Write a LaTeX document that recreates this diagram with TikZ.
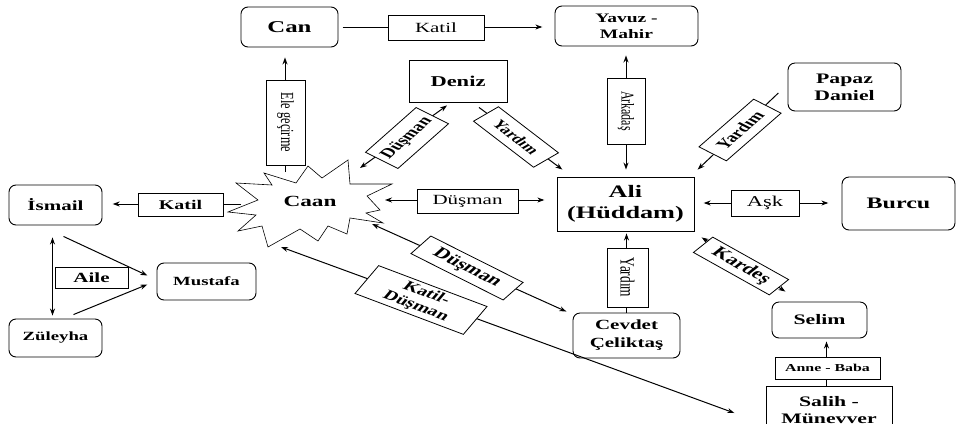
\documentclass[tikz,border=0pt]{standalone}
\usepackage{fontspec}
\setmainfont{Liberation Serif}
\usetikzlibrary{arrows.meta,calc}

\newcommand\fz[2]{\fontsize{#1}{#2}\selectfont}

\tikzset{
  wide/.style={xscale=1.5},
  actor/.style={draw, fill=white, line width=0.9pt, rounded corners=7pt, wide,
                inner sep=0pt, align=center},
  actorsq/.style={actor, sharp corners},
  tag/.style={draw, fill=white, line width=0.8pt, wide, inner sep=0pt, align=center},
  burst/.style={draw, fill=white, line width=0.6pt, line join=miter},
  tip/.tip={Stealth[length=7pt,width=5pt]},
  link/.style={line width=1pt, -tip},
  both/.style={line width=1pt, tip-tip},
}

\begin{document}
\begin{tikzpicture}[x=1pt,y=-1pt]
\useasboundingbox (0,0) rectangle (957,423);

% Caan: a star-burst outline with its name
\begin{scope}[shift={(307,204)}]
  \draw[burst] (-79,8) -- (-49,-4) -- (-71,-21) -- (-35,-19) -- (-43,-31) -- (-11,-21)
    -- (1,-38) -- (15,-26) -- (41,-44) -- (43,-20) -- (85,-20) -- (60,-8) -- (73,6)
    -- (59,9) -- (76,19) -- (43,14) -- (40,30) -- (21,22) -- (11,37) -- (-7,25)
    -- (-39,43) -- (-45,22) -- (-69,27) -- (-51,11) -- cycle;
  \node[wide, inner sep=0pt, font=\fz{15.5}{18}\bfseries] (caan) at (3,-3) {Caan};
\end{scope}

% characters
\node[actor, minimum width=64.7pt, minimum height=40pt, font=\fz{16.5}{18}\bfseries] (can) at (289.5,27) {Can};
\node[actor, minimum width=95.3pt, minimum height=40pt, font=\fz{13}{16}\bfseries] (yavuz) at (626.5,26) {Yavuz -\\Mahir};
\node[actorsq, minimum width=65.3pt, minimum height=42pt, font=\fz{15}{18}\bfseries] (deniz) at (458,81) {Deniz};
\node[actor, minimum width=75.3pt, minimum height=48pt, font=\fz{14.5}{17}\bfseries] (papaz) at (844.5,87) {Papaz\\Daniel};
\node[actorsq, minimum width=91.3pt, minimum height=54pt, font=\fz{17.5}{21}\bfseries] (ali) at (625.5,204) {Ali\\(Hüddam)};
\node[actor, minimum width=75.3pt, minimum height=53pt, font=\fz{16}{19}\bfseries] (burcu) at (898.5,203.5) {Burcu};
\node[actor, minimum width=62pt, minimum height=40pt, font=\fz{14}{17}\bfseries] (ismail) at (55.5,205) {İsmail};
\node[actor, minimum width=66pt, minimum height=37pt, font=\fz{12.5}{15}\bfseries] (mustafa) at (206.5,281.5) {Mustafa};
\node[actor, minimum width=62pt, minimum height=38pt, font=\fz{12.5}{15}\bfseries] (zuleyha) at (55.5,338) {Züleyha};
\node[actor, minimum width=71.3pt, minimum height=45pt, font=\fz{14}{18}\bfseries] (cevdet) at (626.5,335.5) {Cevdet\\Çeliktaş};
\node[actor, minimum width=63.3pt, minimum height=36pt, font=\fz{14.5}{17}\bfseries] (selim) at (819.5,320) {Selim};
\node[actorsq, minimum width=84pt, minimum height=48pt, font=\fz{14.5}{17}\bfseries] (salih) at (829,410) {Salih -\\Münevver};

% relations
\draw[link] ($(caan.center)+(-25,-29)$) -- ($(can.south)+(-4.5,10)$);
\draw[link] ($(can.east)+(4,0)$) -- ($(yavuz.west)+(-12,1)$);
\draw[both] ($(yavuz.south)+(-0.5,9)$) -- ($(ali.north)+(0.5,-7)$);
\draw[both] ($(caan.center)+(50,-33)$) -- ($(deniz.south)+(-11,3)$);
\draw[link] ($(deniz.south)+(21,5)$) -- ($(ali.north west)+(6,-7)$);
\draw[link] ($(papaz.west)+(-9,6)$) -- ($(ali.north east)+(3,-7)$);
\draw[both] ($(caan.center)+(75,-1)$) -- ($(ali.west)+(-12,-4)$);
\draw[both] ($(ali.east)+(9,-1)$) -- ($(burcu.west)+(-13,-0.5)$);
\draw[both] ($(ali.south east)+(7,6)$) -- ($(selim.north west)+(14,-10)$);
\draw[link] (cevdet.north) -- ($(ali.south)+(1,2)$);
\draw[both] ($(caan.center)+(62,23)$) -- ($(cevdet.north west)+(-6,-1)$);
\draw[both] ($(caan.center)+(-29,46)$) -- ($(salih.west)+(-31,3)$);
\draw[link] ($(caan.center)+(-69,3)$) -- ($(ismail.east)+(10,-1)$);
\draw[both] ($(ismail.south)+(-3,12)$) -- ($(zuleyha.north)+(-3,-3)$);
\draw[link] ($(ismail.south)+(8,11)$) -- ($(mustafa.west)+(-9,-6)$);
\draw[link] ($(zuleyha.north)+(18,-4)$) -- ($(mustafa.west)+(-9,3)$);
\draw[link] ($(salih.north)+(-2.5,0)$) -- ($(selim.south)+(7,3)$);

% relation labels
\node[tag, minimum width=64pt, minimum height=25pt, font=\fz{14}{16}] (kt) at (436,27.5) {Katil};
\node[tag, minimum width=56.7pt, minimum height=23pt, font=\fz{13.3}{16}\bfseries] (kl) at (180.5,204.5) {Katil};
\node[tag, minimum width=67.3pt, minimum height=24pt, font=\fz{14}{16}] (dm) at (467.5,201) {Düşman};
\node[tag, minimum width=45.3pt, minimum height=26pt, font=\fz{15}{17}] (ask) at (765,203) {Aşk};
\node[tag, minimum width=48.7pt, minimum height=21pt, font=\fz{14}{16}\bfseries] (aile) at (91.5,277.5) {Aile};
\node[tag, minimum width=70pt, minimum height=22pt, font=\fz{10.6}{13}\bfseries] (anne) at (827.5,368) {Anne - Baba};
\node[tag, rotate=-90, minimum width=85pt, minimum height=26pt, font=\fz{12.3}{14}] (ele) at (285.5,122.5) {Ele geçirme};
\node[tag, rotate=-90, minimum width=66pt, minimum height=25.3pt, font=\fz{12}{14}] (ark) at (626,111) {Arkadaş};
\node[tag, rotate=-90, minimum width=59pt, minimum height=27.3pt, font=\fz{13.4}{15}] (yl) at (627.5,277.5) {Yardım};
\node[tag, rotate=53, minimum width=56pt, minimum height=27pt, font=\fz{13.5}{15}\bfseries] (dt) at (407,138) {Düşman};
\node[tag, rotate=-49, minimum width=61pt, minimum height=22pt, font=\fz{12.5}{14}\bfseries] (yt) at (516,137) {Yardım};
\node[tag, rotate=52.6, minimum width=60pt, minimum height=23pt, font=\fz{13.5}{15}\bfseries] (yp) at (740,130) {Yardım};
\node[tag, rotate=-40, minimum width=66pt, minimum height=20pt, font=\fz{15}{16}\bfseries] (kd) at (741,266) {Kardeş};
\node[tag, rotate=-37, minimum width=77pt, minimum height=22pt, font=\fz{15}{16}\bfseries] (dl) at (467,268) {Düşman};
\node[tag, rotate=-29.5, minimum width=83pt, minimum height=32pt, font=\fz{13.5}{14.5}\bfseries] (kdm) at (421,300) {Katil-\\Düşman};
\end{tikzpicture}
\end{document}
